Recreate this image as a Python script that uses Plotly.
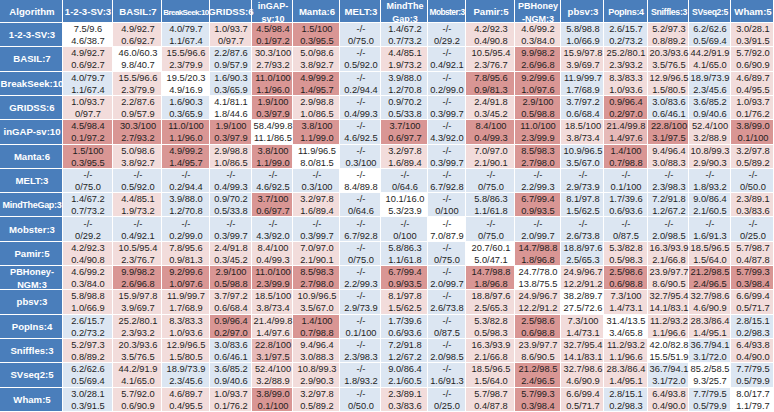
import numpy as np
import plotly.graph_objects as go

algorithms = ["1-2-3-SV:3", "BASIL:7", "BreakSeek:10", "GRIDSS:6", "inGAP-sv:10", "Manta:6",
              "MELT:3", "MindTheGap:3", "Mobster:3", "Pamir:5", "PBHoney-NGM:3", "pbsv:3",
              "PopIns:4", "Sniffles:3", "SVseq2:5", "Wham:5"]
col_headers = ["Algorithm", "1-2-3-SV:3", "BASIL:7", "BreakSeek:10", "GRIDSS:6", "inGAP-<br>sv:10",
               "Manta:6", "MELT:3", "MindThe<br>Gap:3", "Mobster:3", "Pamir:5", "PBHoney<br>-NGM:3",
               "pbsv:3", "PopIns:4", "Sniffles:3", "SVseq2:5", "Wham:5"]
row_labels = ["1-2-3-SV:3", "BASIL:7", "BreakSeek:10", "GRIDSS:6", "inGAP-sv:10", "Manta:6",
              "MELT:3", "MindTheGap:3", "Mobster:3", "Pamir:5", "PBHoney-<br>NGM:3", "pbsv:3",
              "PopIns:4", "Sniffles:3", "SVseq2:5", "Wham:5"]

line1 = [
 ["7.5/9.6","4.9/92.7","4.0/79.7","1.0/93.7","4.5/98.4","1.5/100","-/-","1.4/67.2","-/-","4.2/92.3","4.6/99.2","5.8/98.8","2.6/15.7","5.2/97.3","6.2/62.6","3.0/28.1"],
 ["4.9/92.7","46.0/60.3","15.5/96.6","2.2/87.6","30.3/100","5.0/98.6","-/-","4.4/85.1","-/-","10.5/95.4","9.9/98.2","15.9/97.8","25.2/80.1","20.3/93.6","44.2/91.9","5.7/92.0"],
 ["4.0/79.7","15.5/96.6","19.5/20.3","1.6/90.3","11.0/100","4.9/99.2","-/-","3.9/88.0","-/-","7.8/95.6","9.2/99.6","11.9/99.7","8.3/83.3","12.9/96.5","18.9/73.9","4.6/89.7"],
 ["1.0/93.7","2.2/87.6","1.6/90.3","4.1/81.1","1.9/100","2.9/98.8","-/-","0.9/70.2","-/-","2.4/91.8","2.9/100","3.7/97.2","0.9/96.4","3.0/83.6","3.6/85.2","1.0/93.7"],
 ["4.5/98.4","30.3/100","11.0/100","1.9/100","58.4/99.8","3.8/100","-/-","3.7/100","-/-","8.4/100","11.0/100","18.5/100","21.4/99.8","22.8/100","52.4/100","3.8/99.0"],
 ["1.5/100","5.0/98.6","4.9/99.2","2.9/98.8","3.8/100","11.9/96.5","-/-","3.2/97.8","-/-","7.0/97.0","8.5/98.3","10.9/96.5","1.4/100","9.4/96.4","10.8/99.3","3.2/97.8"],
 ["-/-"]*16,
 ["1.4/67.2","4.4/85.1","3.9/88.0","0.9/70.2","3.7/100","3.2/97.8","-/-","10.1/16.0","-/-","5.8/86.3","6.7/99.4","8.1/97.8","1.7/39.6","7.2/91.8","9.0/86.4","2.3/89.1"],
 ["-/-"]*16,
 ["4.2/92.3","10.5/95.4","7.8/95.6","2.4/91.8","8.4/100","7.0/97.0","-/-","5.8/86.3","-/-","20.7/60.1","14.7/98.8","18.8/97.6","5.3/82.8","16.3/93.9","18.5/96.5","5.7/98.7"],
 ["4.6/99.2","9.9/98.2","9.2/99.6","2.9/100","11.0/100","8.5/98.3","-/-","6.7/99.4","-/-","14.7/98.8","24.7/78.0","24.9/96.7","2.5/98.6","23.9/97.7","21.2/98.5","5.7/99.3"],
 ["5.8/98.8","15.9/97.8","11.9/99.7","3.7/97.2","18.5/100","10.9/96.5","-/-","8.1/97.8","-/-","18.8/97.6","24.9/96.7","38.2/89.7","7.3/100","32.7/95.4","32.7/98.6","6.6/99.4"],
 ["2.6/15.7","25.2/80.1","8.3/83.3","0.9/96.4","21.4/99.8","1.4/100","-/-","1.7/39.6","-/-","5.3/82.8","2.5/98.6","7.3/100","31.4/13.5","11.2/93.2","28.3/86.4","2.8/15.1"],
 ["5.2/97.3","20.3/93.6","12.9/96.5","3.0/83.6","22.8/100","9.4/96.4","-/-","7.2/91.8","-/-","16.3/93.9","23.9/97.7","32.7/95.4","11.2/93.2","42.0/82.8","36.7/94.1","6.4/93.8"],
 ["6.2/62.6","44.2/91.9","18.9/73.9","3.6/85.2","52.4/100","10.8/99.3","-/-","9.0/86.4","-/-","18.5/96.5","21.2/98.5","32.7/98.6","28.3/86.4","36.7/94.1","85.2/58.5","7.7/79.5"],
 ["3.0/28.1","5.7/92.0","4.6/89.7","1.0/93.7","3.8/99.0","3.2/97.8","-/-","2.3/89.1","-/-","5.7/98.7","5.7/99.3","6.6/99.4","2.8/15.1","6.4/93.8","7.7/79.5","8.0/17.7"],
]
line2 = [
 ["4.6/38.7","0.6/92.7","1.1/67.4","0/97.7","0.1/97.2","0.3/95.5","0/75.0","0.7/73.2","0/29.2","0.4/90.8","0.3/84.0","1.0/66.9","0.2/73.2","0.8/89.2","0.5/69.4","0.3/91.5"],
 ["0.6/92.7","9.8/40.7","2.3/79.9","0.9/57.9","2.7/93.2","3.8/92.7","0.5/92.0","1.9/73.2","0.4/92.1","2.3/76.7","2.6/96.8","3.9/69.7","2.3/93.2","3.5/76.5","4.1/65.0","0.6/90.9"],
 ["1.1/67.4","2.3/79.9","4.9/16.9","0.3/65.9","1.1/96.0","1.4/95.7","0.2/94.4","1.2/70.8","0.2/99.0","0.9/81.3","1.0/97.6","1.7/68.9","1.0/93.6","1.5/80.5","2.3/45.6","0.4/95.5"],
 ["0/97.7","0.9/57.9","0.3/65.9","1.8/44.6","0.3/97.9","1.0/86.5","0.4/99.3","0.5/33.8","0.3/99.7","0.3/45.2","0.5/98.8","0.6/68.4","0.2/97.0","0.6/46.1","0.9/40.6","0.1/76.2"],
 ["0.1/97.2","2.7/93.2","1.1/96.0","0.3/97.9","11.1/86.5","1.1/99.0","4.6/92.5","0.6/97.7","4.3/92.0","0.4/99.3","2.3/99.9","3.8/73.4","1.4/97.6","3.1/97.5","3.2/88.9","0.1/100"],
 ["0.3/95.5","3.8/92.7","1.4/95.7","1.0/86.5","1.1/99.0","8.0/81.5","0.3/100","1.6/89.4","0.3/99.7","2.1/90.1","2.7/98.0","3.5/67.0","0.7/98.8","3.0/88.3","2.9/90.3","0.5/89.2"],
 ["0/75.0","0.5/92.0","0.2/94.4","0.4/99.3","4.6/92.5","0.3/100","8.4/89.8","0/64.6","6.7/92.8","0/75.0","2.2/99.3","2.9/73.9","0.1/100","2.3/98.3","1.8/93.2","0/50.0"],
 ["0.7/73.2","1.9/73.2","1.2/70.8","0.5/33.8","0.6/97.7","1.6/89.4","0/64.6","5.3/23.9","0/100","1.1/61.8","0.9/93.5","1.5/62.5","0.6/93.6","1.2/67.2","2.1/60.5","0.3/83.6"],
 ["0/29.2","0.4/92.1","0.2/99.0","0.3/99.7","4.3/92.0","0.3/99.7","6.7/92.8","0/100","7.0/87.9","0/75.0","2.0/99.7","2.6/73.8","0/87.5","2.0/98.5","1.6/91.3","0/25.0"],
 ["0.4/90.8","2.3/76.7","0.9/81.3","0.3/45.2","0.4/99.3","2.1/90.1","0/75.0","1.1/61.8","0/75.0","5.0/47.1","1.8/96.8","2.5/65.3","0.5/98.3","2.1/66.8","1.5/64.0","0.4/87.8"],
 ["0.3/84.0","2.6/96.8","1.0/97.6","0.5/98.8","2.3/99.9","2.7/98.0","2.2/99.3","0.9/93.5","2.0/99.7","1.8/96.8","13.8/75.5","12.2/91.2","0.6/98.8","8.6/90.5","2.4/96.5","0.3/98.4"],
 ["1.0/66.9","3.9/69.7","1.7/68.9","0.6/68.4","3.8/73.4","3.5/67.0","2.9/73.9","1.5/62.5","2.6/73.8","2.5/65.3","12.2/91.2","27.5/72.6","1.4/73.1","14.1/83.1","4.6/90.9","0.5/71.7"],
 ["0.2/73.2","2.3/93.2","1.0/93.6","0.2/97.0","1.4/97.6","0.7/98.8","0.1/100","0.6/93.6","0/87.5","0.5/98.3","0.6/98.8","1.4/73.1","3.4/65.8","1.1/96.6","1.4/95.1","0.2/98.3"],
 ["0.8/89.2","3.5/76.5","1.5/80.5","0.6/46.1","3.1/97.5","3.0/88.3","2.3/98.3","1.2/67.2","2.0/98.5","2.1/66.8","8.6/90.5","14.1/83.1","1.1/96.6","15.5/51.9","3.1/72.0","0.4/90.0"],
 ["0.5/69.4","4.1/65.0","2.3/45.6","0.9/40.6","3.2/88.9","2.9/90.3","1.8/93.2","2.1/60.5","1.6/91.3","1.5/64.0","2.4/96.5","4.6/90.9","1.4/95.1","3.1/72.0","9.3/25.7","0.5/79.9"],
 ["0.3/91.5","0.6/90.9","0.4/95.5","0.1/76.2","0.1/100","0.5/89.2","0/50.0","0.3/83.6","0/25.0","0.4/87.8","0.3/98.4","0.5/71.7","0.2/98.3","0.4/90.0","0.5/79.9","1.1/79.7"],
]

# shading class per cell: 0 white, 1 blue, 2 light pink, 3 mid pink, 4 dark red
shade = [
 [0,2,1,2,4,4,1,1,1,2,2,1,1,2,1,2],
 [2,0,2,1,2,2,1,2,1,2,4,2,2,2,2,2],
 [1,2,0,1,4,4,1,1,1,4,4,1,2,2,1,2],
 [2,2,1,0,4,2,1,1,1,2,4,1,4,1,1,2],
 [4,4,4,4,0,4,1,4,1,4,4,2,3,4,2,4],
 [4,2,4,2,4,0,1,2,1,2,4,1,4,2,2,2],
 [1,1,1,1,1,1,0,1,1,1,1,1,1,1,1,1],
 [1,2,1,1,4,2,1,0,1,1,4,1,1,1,1,2],
 [1,1,1,1,1,1,1,1,0,1,1,1,1,1,1,1],
 [2,2,2,2,2,2,1,1,1,0,4,1,2,2,2,2],
 [2,4,4,4,4,4,1,4,1,4,0,2,4,2,4,4],
 [2,2,2,2,2,2,1,2,1,2,2,0,2,2,2,2],
 [1,2,2,4,2,4,1,1,1,2,4,2,0,2,2,1],
 [2,2,2,1,3,2,1,1,1,2,2,2,2,0,1,2],
 [1,2,1,1,2,2,1,1,1,2,4,2,2,1,0,1],
 [1,2,2,2,4,2,1,2,1,2,4,2,1,2,1,0],
]

# layout (pixels): column widths and row heights
widths = [63, 50, 49, 48, 42, 41, 47, 41, 47, 38, 49, 46, 43, 44, 41, 42, 43]
header_h = 23.0
row_h = 24.3
W, H = 774, 412

head_blue = "#4a7ebb"
body_scale = [[0.0, "#ffffff"], [0.2, "#ffffff"], [0.2, "#dce6f2"], [0.4, "#dce6f2"],
              [0.4, "#f2dcdb"], [0.6, "#f2dcdb"], [0.6, "#e6b9b8"], [0.8, "#e6b9b8"],
              [0.8, "#d99694"], [1.0, "#d99694"]]
blue_scale = [[0, head_blue], [1, head_blue]]

n = len(algorithms)
xe = np.concatenate([[0.0], np.cumsum(widths)])
ye = header_h + row_h * np.arange(n + 1)

# squeezed labels: (font size px, letter spacing px)
squeeze_col = {"BreakSeek:10": (8.0, -0.6), "Mobster:3": (8.4, -0.55), "PopIns:4": (9.0, -0.3),
               "Sniffles:3": (8.8, -0.35), "SVseq2:5": (8.6, -0.35),
               "inGAP-sv:10": (9.0, 0.0), "MindTheGap:3": (9.0, 0.0), "PBHoney-NGM:3": (9.0, 0.0)}
squeeze_row = {"MindTheGap:3": (9.0, -0.3), "PBHoney-NGM:3": (9.2, 0.0)}

def head_text(s, squeeze, size=9.6, ls=0.0):
    plain = s.replace("<br>", "")
    if plain in squeeze:
        size, ls = squeeze[plain]
    return f"<b><span style='font-size:{size}px;letter-spacing:{ls}px'>{s}</span></b>"

body_text = [[line1[i][j] + "<br>" + line2[i][j] for j in range(n)] for i in range(n)]

font_family = "Liberation Sans, Arial, Helvetica, sans-serif"

fig = go.Figure()
# body cells
fig.add_trace(go.Heatmap(
    x=xe[1:], y=ye, z=shade, zmin=-0.5, zmax=4.5, colorscale=body_scale, showscale=False,
    text=body_text, texttemplate="%{text}",
    textfont=dict(family=font_family, size=9.3, color="#1e1e1e"),
    xgap=1, ygap=1, hoverinfo="skip"))
# header row
fig.add_trace(go.Heatmap(
    x=xe, y=[0, header_h], z=[[1] * (n + 1)], zmin=0, zmax=1, colorscale=blue_scale,
    showscale=False, text=[[head_text(s, squeeze_col) for s in col_headers]], texttemplate="%{text}",
    textfont=dict(family=font_family, size=9.6, color="white"),
    xgap=1, ygap=1, hoverinfo="skip"))
# row header column
fig.add_trace(go.Heatmap(
    x=[0, widths[0]], y=ye, z=[[1] for _ in range(n)], zmin=0, zmax=1, colorscale=blue_scale,
    showscale=False, text=[[head_text(s, squeeze_row)] for s in row_labels], texttemplate="%{text}",
    textfont=dict(family=font_family, size=9.6, color="white"),
    xgap=1, ygap=1, hoverinfo="skip"))

fig.update_xaxes(range=[0, W], visible=False, fixedrange=True)
fig.update_yaxes(range=[H, 0], visible=False, fixedrange=True)
fig.update_layout(width=W, height=H, margin=dict(l=0, r=0, t=0, b=0),
                  paper_bgcolor="white", plot_bgcolor="white")
fig.write_html("out.html", config={"displayModeBar": False, "staticPlot": True},
               post_script="document.body.style.margin='0px';document.body.style.overflow='hidden';")
